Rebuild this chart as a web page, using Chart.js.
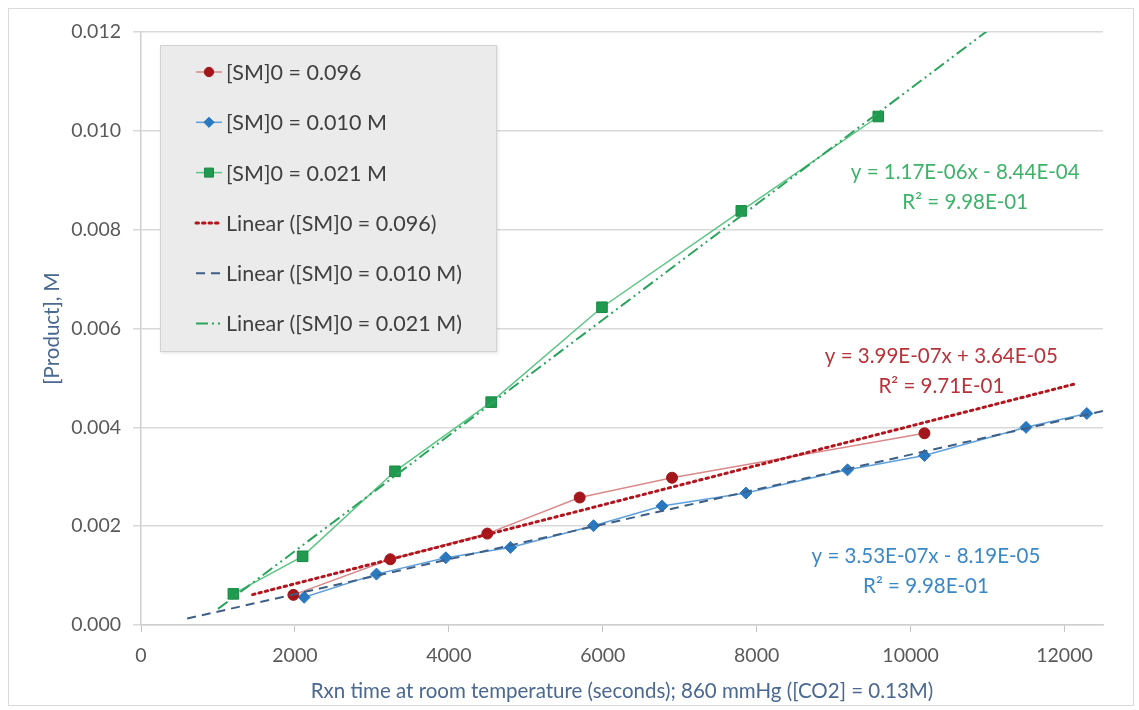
<!DOCTYPE html>
<html lang="en">
<head>
<meta charset="UTF-8">
<title>Product formation vs reaction time</title>
<style>
  html, body { margin: 0; padding: 0; background: #fff; }
  #wrap { position: relative; width: 1139px; height: 710px; }
  #frame { position: absolute; left: 8px; top: 8px; width: 1124px; height: 696px; border: 1px solid #dadada; pointer-events: none; }
  canvas { display: block; }
</style>
</head>
<body>
<div id="wrap">
  <canvas id="chart" width="1139" height="710"></canvas>
  <div id="frame"></div>
</div>
<script src="https://cdn.jsdelivr.net/npm/chart.js"></script>
<script>
// [SM]0 = 0.096
const redX = [1980, 3240, 4500, 5700, 6900, 10180];
const redY = [0.00061, 0.00133, 0.00185, 0.00258, 0.00298, 0.00388];
// [SM]0 = 0.010 M
const blueX = [2120, 3060, 3960, 4800, 5880, 6770, 7860, 9180, 10180, 11500, 12290];
const blueY = [0.00056, 0.00103, 0.00136, 0.00157, 0.00201, 0.00241, 0.00267, 0.00314, 0.00343, 0.00400, 0.00428];
// [SM]0 = 0.021 M
const greenX = [1200, 2100, 3300, 4550, 5990, 7800, 9580];
const greenY = [0.00063, 0.00139, 0.00311, 0.00451, 0.00643, 0.00838, 0.01029];

// least-squares fits [slope, intercept] and the x range each trendline spans
const redFit = [3.99e-7, 3.64e-5];
const blueFit = [3.53e-7, -8.19e-5];
const greenFit = [1.17e-6, -8.44e-4];
const redFitSpan = [1450, 12150];
const blueFitSpan = [600, 12500];
const greenFitSpan = [1000, 11000];

const redEq = ['y = 3.99E-07x + 3.64E-05', 'R² = 9.71E-01'];
const blueEq = ['y = 3.53E-07x - 8.19E-05', 'R² = 9.98E-01'];
const greenEq = ['y = 1.17E-06x - 8.44E-04', 'R² = 9.98E-01'];

const xTickValues = [0, 2000, 4000, 6000, 8000, 10000, 12000];
const yTickValues = [0, 0.002, 0.004, 0.006, 0.008, 0.010, 0.012];
const xMax = 12500;

const FONT = 'Lato, "Open Sans", sans-serif';

function pts(xs, ys) {
    return xs.map((x, i) => ({ x: x, y: ys[i] }));
}
function fitLine(fit, span) {
    return span.map(x => ({ x: x, y: fit[0] * x + fit[1] }));
}

const datasets = [
    {
        label: '[SM]0 = 0.096',
        data: pts(redX, redY),
        showLine: true,
        borderColor: '#d98a8a', borderWidth: 1.5,
        pointStyle: 'circle', pointRadius: 5.5,
        pointBackgroundColor: '#a3161c', pointBorderColor: '#a3161c', pointBorderWidth: 1,
        order: 2
    },
    {
        label: '[SM]0 = 0.010 M',
        data: pts(blueX, blueY),
        showLine: true,
        borderColor: '#5fa0dc', borderWidth: 1.5,
        pointStyle: 'rectRot', pointRadius: 6,
        pointBackgroundColor: '#2a78c0', pointBorderColor: '#2a78c0', pointBorderWidth: 1,
        order: 2
    },
    {
        label: '[SM]0 = 0.021 M',
        data: pts(greenX, greenY),
        showLine: true,
        borderColor: '#5cc585', borderWidth: 1.5,
        pointStyle: 'rect', pointRadius: 7.5,
        pointBackgroundColor: '#1f9a4e', pointBorderColor: '#1a8a45', pointBorderWidth: 1,
        order: 2
    },
    {
        label: 'Linear ([SM]0 = 0.096)',
        data: fitLine(redFit, redFitSpan),
        showLine: true, pointRadius: 0,
        borderColor: '#b3151f', borderWidth: 3, borderDash: [2.5, 4], borderCapStyle: 'round',
        order: 1
    },
    {
        label: 'Linear ([SM]0 = 0.010 M)',
        data: fitLine(blueFit, blueFitSpan),
        showLine: true, pointRadius: 0,
        borderColor: '#3e5f86', borderWidth: 2, borderDash: [9, 6],
        order: 1
    },
    {
        label: 'Linear ([SM]0 = 0.021 M)',
        data: fitLine(greenFit, greenFitSpan),
        showLine: true, pointRadius: 0,
        borderColor: '#2aa35c', borderWidth: 2, borderDash: [12, 4, 2, 4, 2, 4],
        order: 1
    }
];

// equation text blocks: colour and anchor in data units (centre of first line)
const equations = [
    { lines: greenEq, color: '#3db36a', x: 10710, y: 0.00916 },
    { lines: redEq, color: '#b8323a', x: 10400, y: 0.00544 },
    { lines: blueEq, color: '#3a88c6', x: 10200, y: 0.00139 }
];

const equationPlugin = {
    id: 'equations',
    afterDatasetsDraw(chart) {
        const { ctx, scales } = chart;
        ctx.save();
        ctx.font = '20.5px ' + FONT;
        ctx.textAlign = 'center';
        ctx.textBaseline = 'middle';
        equations.forEach(eq => {
            const px = scales.x.getPixelForValue(eq.x);
            const py = scales.y.getPixelForValue(eq.y);
            ctx.fillStyle = eq.color;
            eq.lines.forEach((t, i) => ctx.fillText(t, px, py + i * 30));
        });
        ctx.restore();
    }
};

// boxed legend sitting inside the plot, top-left
const boxLegend = {
    id: 'boxLegend',
    afterDraw(chart) {
        const ctx = chart.ctx;
        const box = { left: 160, top: 45, right: 497, bottom: 352 };
        ctx.save();
        ctx.shadowColor = 'rgba(0,0,0,0.12)';
        ctx.shadowBlur = 3;
        ctx.shadowOffsetX = 1;
        ctx.shadowOffsetY = 1;
        ctx.fillStyle = '#ebebeb';
        ctx.fillRect(box.left, box.top, box.right - box.left, box.bottom - box.top);
        ctx.shadowColor = 'transparent';
        ctx.strokeStyle = '#d3d3d3';
        ctx.lineWidth = 1;
        ctx.strokeRect(box.left + 0.5, box.top + 0.5, box.right - box.left - 1, box.bottom - box.top - 1);

        const rowY0 = 72, rowStep = 50.3;
        ctx.font = '21.5px ' + FONT;
        ctx.textBaseline = 'middle';
        chart.data.datasets.forEach((ds, i) => {
            const y = rowY0 + i * rowStep;
            ctx.save();
            ctx.strokeStyle = ds.borderColor;
            ctx.lineWidth = ds.borderWidth;
            ctx.setLineDash(ds.borderDash || []);
            ctx.lineCap = ds.borderCapStyle || 'butt';
            ctx.beginPath();
            ctx.moveTo(196, y);
            ctx.lineTo(222, y);
            ctx.stroke();
            ctx.restore();
            if (ds.pointRadius > 0) {
                ctx.fillStyle = ds.pointBackgroundColor;
                ctx.strokeStyle = ds.pointBorderColor;
                ctx.lineWidth = 1;
                Chart.helpers.drawPoint(ctx, { pointStyle: ds.pointStyle, radius: ds.pointRadius * 0.85, rotation: 0, borderWidth: 1 }, 209, y);
            }
            ctx.fillStyle = '#404040';
            ctx.textAlign = 'left';
            ctx.fillText(ds.label, 226, y + 1);
        });
        ctx.restore();
    }
};

const ctx = document.getElementById('chart').getContext('2d');
const chart = new Chart(ctx, {
    type: 'scatter',
    data: { datasets: datasets },
    options: {
        responsive: false,
        animation: false,
        layout: { padding: { top: 32, right: 36, left: 0, bottom: 0 } },
        plugins: {
            legend: { display: false },
            tooltip: { enabled: false }
        },
        scales: {
            x: {
                type: 'linear',
                min: 0,
                max: xMax,
                afterFit: s => { s.height = 85; },
                afterBuildTicks: s => { s.ticks = xTickValues.map(v => ({ value: v })); },
                ticks: {
                    color: '#595959',
                    font: { family: FONT, size: 19.5 },
                    padding: 12,
                    callback: v => String(v)
                },
                grid: { drawOnChartArea: false, drawTicks: true, tickLength: 7, color: '#c4c4c4', lineWidth: 1 },
                border: { color: '#cfcfcf', width: 1.5 },
                title: {
                    display: true,
                    text: 'Rxn time at room temperature (seconds); 860 mmHg ([CO2] = 0.13M)',
                    color: '#4a6890',
                    font: { family: FONT, size: 20.5 },
                    padding: { top: 0, bottom: 6 }
                }
            },
            y: {
                type: 'linear',
                min: 0,
                max: yTickValues[yTickValues.length - 1],
                afterFit: s => { s.width = 141; },
                afterBuildTicks: s => { s.ticks = yTickValues.map(v => ({ value: v })); },
                ticks: {
                    color: '#595959',
                    font: { family: FONT, size: 19.5 },
                    padding: 12,
                    callback: v => v.toFixed(3)
                },
                grid: { color: '#d9d9d9', lineWidth: 1.5, tickLength: 8 },
                border: { color: '#cfcfcf', width: 1.5 },
                title: {
                    display: true,
                    text: '[Product], M',
                    color: '#4a6890',
                    font: { family: FONT, size: 20.5 },
                    padding: { top: 40, bottom: 0 }
                }
            }
        }
    },
    plugins: [equationPlugin, boxLegend]
});
</script>
</body>
</html>
